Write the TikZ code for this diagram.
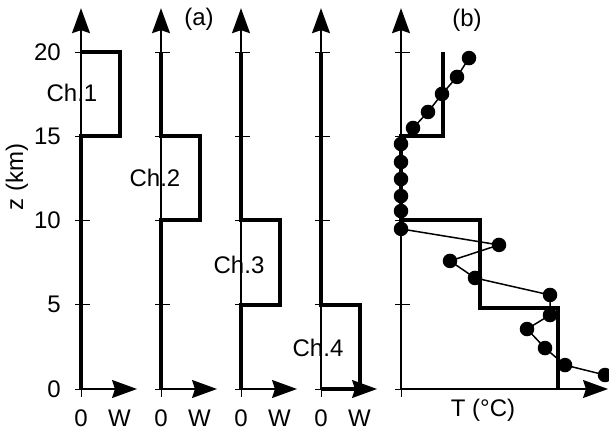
\documentclass[tikz,border=0pt]{standalone}
\usepackage{fontspec}
\setmainfont{Liberation Sans}
\usetikzlibrary{arrows.meta}
\usetikzlibrary{calc}

\begin{document}
\begin{tikzpicture}[
x=1pt, y=16.85pt,
axis/.style={-{Stealth[length=25pt, width=18pt, inset=3pt]}, line width=1.3pt},
profile/.style={line width=4pt},
ticks/.style={line width=0.9pt},
lbl/.style={font=\fontsize{24}{26}\selectfont, inner sep=0pt}
]
\useasboundingbox (0,-2.4332) rectangle (609,23.0861);

% z axis labels
\foreach \z in {0,5,10,15,20}
  \node[lbl, anchor=east] (z\z) at (61,\z) {\z};
\node[lbl, rotate=90] (zlabel) at (17,12.58) {z (km)};

\node[lbl] (pa) at (199,21.96) {(a)};
\node[lbl] (pb) at (467,21.9) {(b)};

\def\W{38.5}

% channel axes
\foreach \X/\n in {81/1, 161/2, 241/3, 321/4} {
\begin{scope}[shift={(\X,0)}]
\coordinate (O\n) at (0,0);
\coordinate (Z\n) at (0,22.6);
\coordinate (E\n) at (56,0);
\foreach \z in {0,5,10,15,20}
  \draw[ticks] (-6,\z) -- (9,\z);
\draw[ticks] (O\n) -- (0,-0.47);
\draw[axis] (O\n) -- (Z\n);
\draw[axis] (O\n) -- (E\n);
\node[lbl, anchor=base] (zero\n) at (0,-2.2) {0};
\node[lbl, anchor=base] (w\n) at (\W,-2.2) {W};
\end{scope}
}

% weighting functions
\begin{scope}[shift={(81,0)}]
\draw[profile] (0,0) -- (0,15) -- (\W,15) -- (\W,20) -- (0,20);
\node[lbl] (ch1) at (-9,17.57) {Ch.1};
\end{scope}

\begin{scope}[shift={(161,0)}]
\draw[profile] (0,20) -- (0,15) -- (\W,15) -- (\W,10) -- (0,10) -- (0,0);
\node[lbl] (ch2) at (-6,12.52) {Ch.2};
\end{scope}

\begin{scope}[shift={(241,0)}]
\draw[profile] (0,20) -- (0,10) -- (\W,10) -- (\W,5) -- (0,5) -- (0,0);
\node[lbl] (ch3) at (-2,7.36) {Ch.3};
\end{scope}

\begin{scope}[shift={(321,0)}]
\draw[profile] (0,20) -- (0,5) -- (\W,5) -- (\W,0) -- (0,0);
\node[lbl] (ch4) at (-3,2.43) {Ch.4};
\end{scope}

% temperature profile
\begin{scope}[shift={(401,0)}]
\coordinate (OT) at (0,0);
\coordinate (ZT) at (0,22.6);
\coordinate (ET) at (207,0);
\foreach \z in {0,5,10,15,20}
  \draw[ticks] (-6,\z) -- (9,\z);
\draw[ticks] (OT) -- (0,-0.47);
\draw[axis] (OT) -- (ZT);
\draw[axis] (OT) -- (ET);
\node[lbl, anchor=base] (tlabel) at (82,-1.66) {T (°C)};

\draw[profile] (42,20) -- (42,15) -- (0,15) -- (0,10) -- (79,10) -- (79,4.8) -- (157,4.8) -- (157,0);

\draw[line width=1.5pt] plot[mark=*, mark size=6.5pt] coordinates {
(68,19.64) (56,18.52) (41,17.51) (27,16.44) (12,15.49)
(0,14.54) (0,13.47) (0,12.46) (0,11.45) (0,10.56) (0,9.5)
(98,8.55) (49,7.6) (74,6.59) (149,5.58) (149,4.39)
(126,3.56) (144,2.43) (164,1.42) (204,0.83)};
\end{scope}
\end{tikzpicture}
\end{document}
